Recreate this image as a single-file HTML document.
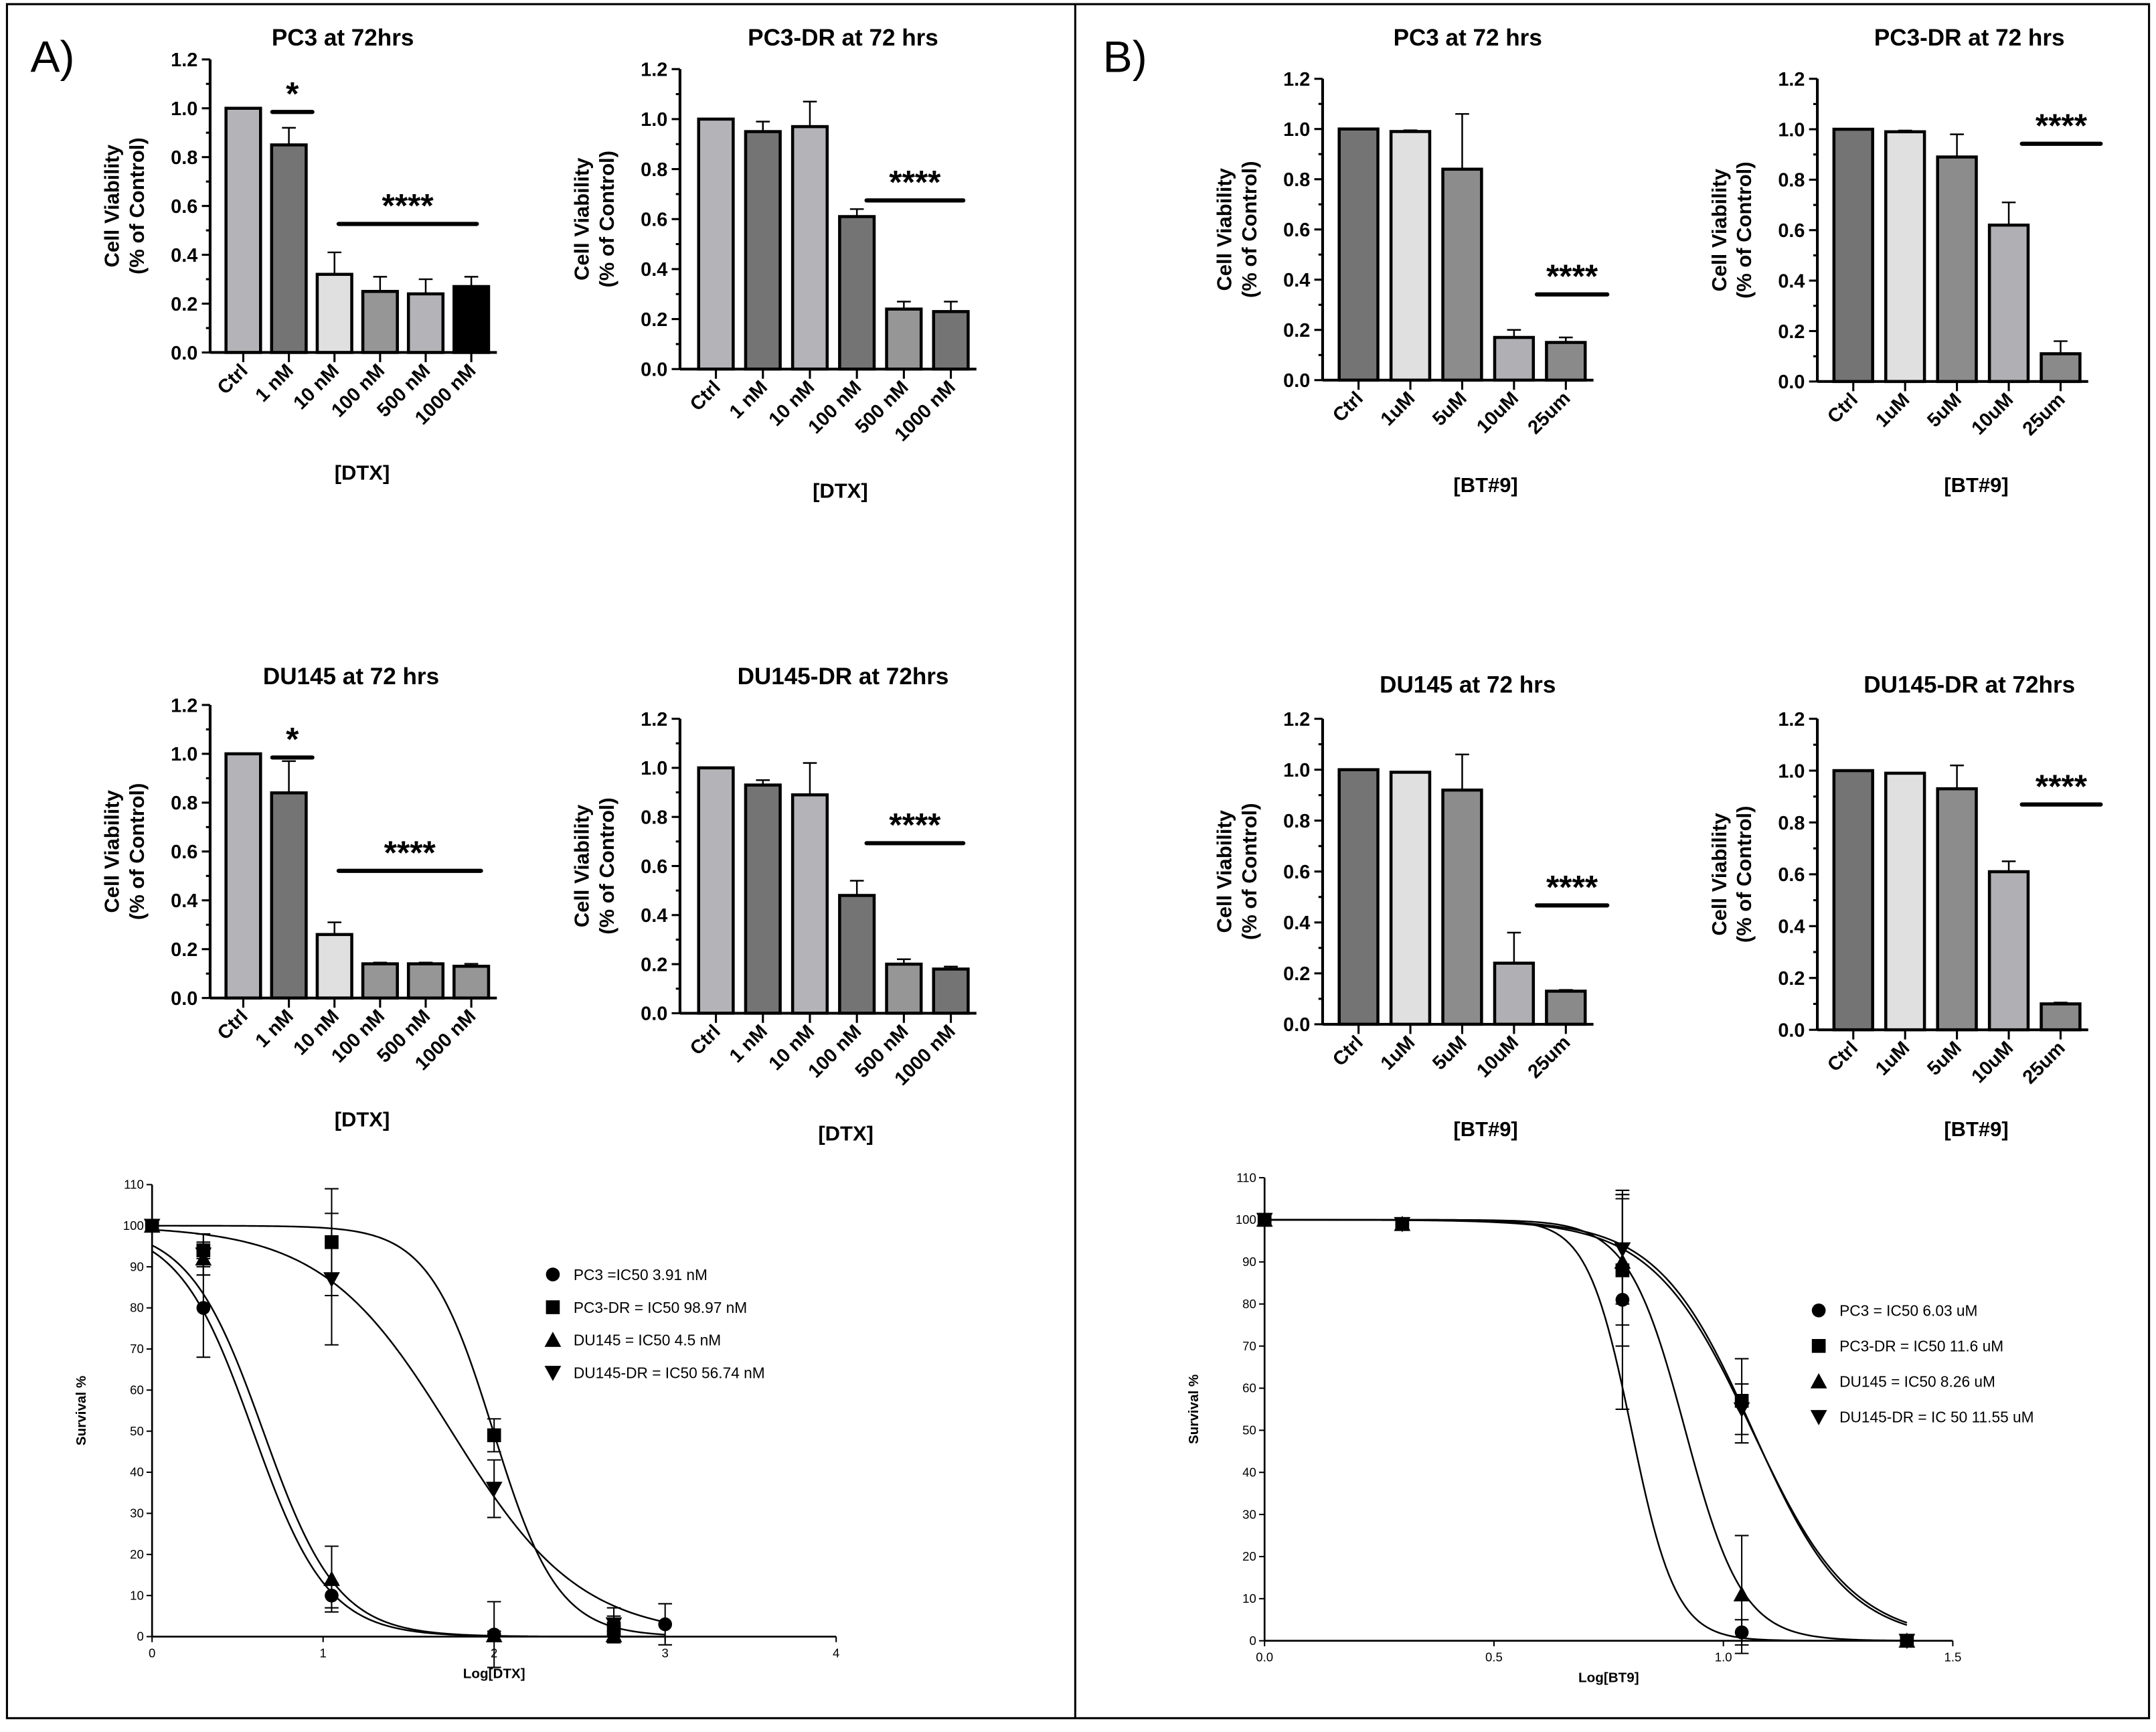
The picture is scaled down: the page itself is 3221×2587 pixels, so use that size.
<!DOCTYPE html>
<html><head><meta charset="utf-8">
<style>
html,body{margin:0;padding:0;background:#fff;}
svg{display:block;font-family:"Liberation Sans",Arial,sans-serif;}
</style></head>
<body>
<svg id="fig" width="3221" height="2587" viewBox="0 0 1560 1253" xmlns="http://www.w3.org/2000/svg">
<rect x="5" y="3" width="1550" height="1240" fill="none" stroke="#000" stroke-width="1.5"/>
<line x1="778" y1="3" x2="778" y2="1243" stroke="#000" stroke-width="1.5"/>
<text x="22" y="52" font-size="32" font-family="Liberation Sans, sans-serif">A)</text>
<text x="798" y="52" font-size="32">B)</text>
<g id="root"></g>
</svg>
<script>
// ---- Bar chart data ----
const dtxCats = ["Ctrl","1 nM","10 nM","100 nM","500 nM","1000 nM"];
const bt9Cats = ["Ctrl","1uM","5uM","10uM","25um"];
const pc3Vals = [1.0,0.85,0.32,0.25,0.24,0.27];
const pc3Errs = [0,0.07,0.09,0.06,0.06,0.04];
const pc3drVals = [1.0,0.95,0.97,0.61,0.24,0.23];
const pc3drErrs = [0,0.04,0.10,0.03,0.03,0.04];
const du145Vals = [1.0,0.84,0.26,0.14,0.14,0.13];
const du145Errs = [0,0.13,0.05,0.005,0.005,0.01];
const du145drVals = [1.0,0.93,0.89,0.48,0.20,0.18];
const du145drErrs = [0,0.02,0.13,0.06,0.02,0.01];
const bPc3Vals = [1.0,0.99,0.84,0.17,0.15];
const bPc3Errs = [0,0.005,0.22,0.03,0.02];
const bPc3drVals = [1.0,0.99,0.89,0.62,0.11];
const bPc3drErrs = [0,0.005,0.09,0.09,0.05];
const bDu145Vals = [1.0,0.99,0.92,0.24,0.13];
const bDu145Errs = [0,0,0.14,0.12,0.005];
const bDu145drVals = [1.0,0.99,0.93,0.61,0.10];
const bDu145drErrs = [0,0,0.09,0.04,0.005];
const yTicks = [0,0.2,0.4,0.6,0.8,1.0,1.2];

// ---- Dose response data ----
const dtxX = [0,0.3,1.05,2,2.7,3];
const dtxPc3 = [100,80,10,0.5,0.5,3];
const dtxPc3Err = [0,12,3,8,2,5];
const dtxPc3dr = [100,94,96,49,2,null];
const dtxPc3drErr = [0,4,13,4,3,0];
const dtxDu = [100,92,14,0.3,0.3,null];
const dtxDuErr = [0,4,8,1,1,0];
const dtxDudr = [100,93,87,36,3,null];
const dtxDudrErr = [0,5,16,7,4,0];
const dtxLogIC50 = [0.59,1.995,0.65,1.75];
const dtxHill = [2.0,2.3,2.0,1.15];
const bt9X = [0,0.3,0.78,1.04,1.4];
const bt9Pc3 = [100,99,81,2,0];
const bt9Pc3Err = [0,0,26,3,0];
const bt9Pc3dr = [100,99,88,57,0];
const bt9Pc3drErr = [0,0,18,10,0];
const bt9Du = [100,99,90,11,0];
const bt9DuErr = [0,0,15,14,0];
const bt9Dudr = [100,99,93,55,0];
const bt9DudrErr = [0,0,13,6,0];
const bt9LogIC50 = [0.80,1.064,0.917,1.0626];
const bt9Hill = [9,4.2,7,4.0];

const NS="http://www.w3.org/2000/svg";
const root=document.getElementById('root');
function el(tag,attrs,parent,txt){const e=document.createElementNS(NS,tag);for(const k in attrs)e.setAttribute(k,attrs[k]);if(txt!==undefined)e.textContent=txt;(parent||root).appendChild(e);return e;}

const dtxColors=["#b4b4b8","#747474","#e0e0e0","#969696","#b4b4b8","#000000"];
const bt9Colors=["#747474","#e0e0e0","#8c8c8c","#b0b0b4","#8a8a8a"];

function barPanel(o){
  const g=el('g',{});
  
  
  const n=o.cats.length;
  const yS=v=>o.y0-(o.y0-o.y12)*v/1.2;
  const xEnd=o.ax+o.first+o.step*(n-1)+o.bw/2+6;
  // title
  const t=el('text',{x:o.tx,y:o.ty,'font-size':17,'font-weight':'bold','text-anchor':'middle'},g,o.title);
  
  
  // y axis
  el('line',{x1:o.ax,y1:o.y12,x2:o.ax,y2:o.y0,stroke:'#000','stroke-width':2},g);
  for(let i=0;i<=12;i++){const y=yS(i*0.1);el('line',{x1:o.ax-(i%2?3:6),y1:y,x2:o.ax,y2:y,stroke:'#000','stroke-width':1.5},g);}
  yTicks.forEach(v=>{const tl=el('text',{x:o.ax-9,y:yS(v)+5,'font-size':14,'font-weight':'bold','text-anchor':'end'},g,v.toFixed(1));
    });
  const yt=el('text',{transform:`translate(${o.ax-66},${(o.y0+o.y12)/2}) rotate(-90)`,'font-size':15,'font-weight':'bold','text-anchor':'middle'},g);
  
  el('tspan',{x:0,dy:0},yt,'Cell Viability');el('tspan',{x:0,dy:18},yt,'(% of Control)');
  // bars
  o.vals.forEach((v,i)=>{
    const cx=o.ax+o.first+o.step*i;
    const yt=yS(v);
    const r=el('rect',{x:cx-o.bw/2,y:yt,width:o.bw,height:o.y0-yt,fill:o.colors[i],stroke:'#000','stroke-width':2.2},g);
    
    
    if(o.errs[i]>0.004){const ye=yS(v+o.errs[i]);
      el('line',{x1:cx,y1:yt,x2:cx,y2:ye,stroke:'#000','stroke-width':1.2},g);
      el('line',{x1:cx-5,y1:ye,x2:cx+5,y2:ye,stroke:'#000','stroke-width':1.2},g);}
    el('line',{x1:cx,y1:o.y0,x2:cx,y2:o.y0+7,stroke:'#000','stroke-width':1.5},g);
    const lb=el('text',{transform:`translate(${cx+4},${o.y0+14}) rotate(-45)`,'font-size':14,'font-weight':'bold','text-anchor':'end'},g,o.cats[i]);
    
  });
  el('line',{x1:o.ax,y1:o.y0,x2:xEnd,y2:o.y0,stroke:'#000','stroke-width':2},g);
  const xt=el('text',{x:o.xlx,y:o.xly,'font-size':15,'font-weight':'bold','text-anchor':'middle'},g,o.xlabel);
  
  o.sig.forEach(s=>{
    el('line',{x1:s[0],y1:s[2],x2:s[1],y2:s[2],stroke:'#000','stroke-width':3,'stroke-linecap':'round'},g);
    const st=el('text',{x:(s[0]+s[1])/2,y:s[2]-5,'font-size':s[3].length>1?24:24,'font-weight':'bold','text-anchor':'middle'},g,s[3]);
    
  });
}
const A={first:24,step:33,bw:25};
const B={first:26,step:37.5,bw:28};
barPanel({name:'chart-pc3-dtx',title:'PC3 at 72hrs',tx:248,ty:33,ax:152,y0:255,y12:43,...A,cats:dtxCats,vals:pc3Vals,errs:pc3Errs,colors:dtxColors,xlabel:'[DTX]',xlx:262,xly:347,sig:[[197,226,81,'*'],[245,345,162,'****']]});
barPanel({name:'chart-pc3dr-dtx',title:'PC3-DR at 72 hrs',tx:610,ty:33,ax:492,y0:267,y12:50,...A,first:26,step:34,cats:dtxCats,vals:pc3drVals,errs:pc3drErrs,colors:["#b4b4b8","#747474","#b4b4b8","#747474","#969696","#747474"],xlabel:'[DTX]',xlx:608,xly:360,sig:[[627,697,145,'****']]});
barPanel({name:'chart-du145-dtx',title:'DU145 at 72 hrs',tx:254,ty:495,ax:152,y0:722,y12:510,...A,cats:dtxCats,vals:du145Vals,errs:du145Errs,colors:["#b4b4b8","#747474","#e0e0e0","#969696","#969696","#969696"],xlabel:'[DTX]',xlx:262,xly:815,sig:[[197,226,548,'*'],[245,348,630,'****']]});
barPanel({name:'chart-du145dr-dtx',title:'DU145-DR at 72hrs',tx:610,ty:495,ax:492,y0:733,y12:520,...A,first:26,step:34,cats:dtxCats,vals:du145drVals,errs:du145drErrs,colors:["#b4b4b8","#747474","#b4b4b8","#747474","#969696","#747474"],xlabel:'[DTX]',xlx:612,xly:825,sig:[[627,697,610,'****']]});
barPanel({name:'chart-pc3-bt9',title:'PC3 at 72 hrs',tx:1062,ty:33,ax:957,y0:275,y12:57,...B,cats:bt9Cats,vals:bPc3Vals,errs:bPc3Errs,colors:bt9Colors,xlabel:'[BT#9]',xlx:1075,xly:356,sig:[[1112,1163,213,'****']]});
barPanel({name:'chart-pc3dr-bt9',title:'PC3-DR at 72 hrs',tx:1425,ty:33,ax:1315,y0:276,y12:57,...B,cats:bt9Cats,vals:bPc3drVals,errs:bPc3drErrs,colors:bt9Colors,xlabel:'[BT#9]',xlx:1430,xly:356,sig:[[1463,1520,104,'****']]});
barPanel({name:'chart-du145-bt9',title:'DU145 at 72 hrs',tx:1062,ty:501,ax:957,y0:741,y12:520,...B,cats:bt9Cats,vals:bDu145Vals,errs:bDu145Errs,colors:bt9Colors,xlabel:'[BT#9]',xlx:1075,xly:822,sig:[[1112,1163,655,'****']]});
barPanel({name:'chart-du145dr-bt9',title:'DU145-DR at 72hrs',tx:1425,ty:501,ax:1315,y0:745,y12:520,...B,cats:bt9Cats,vals:bDu145drVals,errs:bDu145drErrs,colors:bt9Colors,xlabel:'[BT#9]',xlx:1430,xly:822,sig:[[1463,1520,582,'****']]});

// ---- Dose response panels ----
function marker(g,type,x,y,s){
  let m;
  if(type==='circle')m=el('circle',{cx:x,cy:y,r:s},g);
  else if(type==='square')m=el('rect',{x:x-s,y:y-s,width:2*s,height:2*s},g);
  else if(type==='up')m=el('polygon',{points:`${x},${y-s*1.2} ${x-s*1.2},${y+s} ${x+s*1.2},${y+s}`},g);
  else m=el('polygon',{points:`${x},${y+s*1.2} ${x-s*1.2},${y-s} ${x+s*1.2},${y-s}`},g);
  m.setAttribute('fill','#000');return m;
}
function curvePanel(o){
  const g=el('g',{});
  
  
  const xS=v=>o.x0+(o.x1-o.x0)*(v-o.xmin)/(o.xmax-o.xmin);
  const yS=v=>o.y0-(o.y0-o.y110)*v/110;
  el('line',{x1:o.x0,y1:o.y110,x2:o.x0,y2:o.y0,stroke:'#000','stroke-width':1.3},g);
  el('line',{x1:o.x0,y1:o.y0,x2:o.x1,y2:o.y0,stroke:'#000','stroke-width':1.3},g);
  for(let v=0;v<=110;v+=10){const y=yS(v);el('line',{x1:o.x0-4,y1:y,x2:o.x0,y2:y,stroke:'#000'},g);
    const tl=el('text',{x:o.x0-6,y:y+3,'font-size':9,'text-anchor':'end'},g,String(v));
    }
  o.xticks.forEach(v=>{const x=xS(v);el('line',{x1:x,y1:o.y0,x2:x,y2:o.y0+4,stroke:'#000'},g);
    const tl=el('text',{x:x,y:o.y0+15,'font-size':9,'text-anchor':'middle'},g,o.xtl(v));
    });
  const xt=el('text',{x:(o.x0+o.x1)/2,y:o.y0+30,'font-size':10,'font-weight':'bold','text-anchor':'middle'},g,o.xlabel);
  
  const yt=el('text',{transform:`translate(${o.x0-48},${(o.y0+o.y110)/2}) rotate(-90)`,'font-size':10,'font-weight':'bold','text-anchor':'middle'},g,'Survival %');
  
  const types=['circle','square','up','down'];
  o.series.forEach((s,k)=>{
    let d='';
    for(let i=0;i<=200;i++){const xv=o.xmin+(o.cEnd-o.xmin)*i/200;const yv=100/(1+Math.pow(10,(xv-o.ic[k])*o.h[k]));d+=(i?'L':'M')+xS(xv).toFixed(2)+','+yS(yv).toFixed(2);}
    const p=el('path',{d:d,fill:'none',stroke:'#000','stroke-width':1.2},g);
    
    
    s.v.forEach((v,i)=>{if(v===null)return;const x=xS(o.xs[i]),y=yS(v);
      if(s.e[i]>0){el('line',{x1:x,y1:yS(v-s.e[i]),x2:x,y2:yS(v+s.e[i]),stroke:'#000','stroke-width':1},g);
        el('line',{x1:x-5,y1:yS(v+s.e[i]),x2:x+5,y2:yS(v+s.e[i]),stroke:'#000','stroke-width':1},g);
        el('line',{x1:x-5,y1:yS(v-s.e[i]),x2:x+5,y2:yS(v-s.e[i]),stroke:'#000','stroke-width':1},g);}
      const m=marker(g,types[k],x,y,5);
      
      });
    const ly=o.ly+k*o.lstep;
    const lm=marker(g,types[k],o.lx,ly,5);
    
    
    const lt=el('text',{x:o.lx+15,y:ly+4,'font-size':11},g,o.labels[k]);
    
  });
}
curvePanel({name:'chart-dtx-dose-response',x0:110,x1:605,xmin:0,xmax:4,y0:1184,y110:857,cEnd:3,xticks:[0,1,2,3,4],xtl:v=>String(v),xlabel:'Log[DTX]',
  xs:dtxX,series:[{v:dtxPc3,e:dtxPc3Err},{v:dtxPc3dr,e:dtxPc3drErr},{v:dtxDu,e:dtxDuErr},{v:dtxDudr,e:dtxDudrErr}],
  ic:dtxLogIC50,h:dtxHill,labels:['PC3 =IC50 3.91 nM','PC3-DR = IC50 98.97 nM','DU145 = IC50 4.5 nM','DU145-DR = IC50 56.74 nM'],lx:400,ly:922,lstep:23.7});
curvePanel({name:'chart-bt9-dose-response',x0:915,x1:1413,xmin:0,xmax:1.5,y0:1187,y110:852,cEnd:1.4,xticks:[0,0.5,1,1.5],xtl:v=>v.toFixed(1),xlabel:'Log[BT9]',
  xs:bt9X,series:[{v:bt9Pc3,e:bt9Pc3Err},{v:bt9Pc3dr,e:bt9Pc3drErr},{v:bt9Du,e:bt9DuErr},{v:bt9Dudr,e:bt9DudrErr}],
  ic:bt9LogIC50,h:bt9Hill,labels:['PC3 = IC50 6.03 uM','PC3-DR = IC50 11.6 uM','DU145 = IC50 8.26 uM','DU145-DR = IC 50 11.55 uM'],lx:1316,ly:948,lstep:25.7});
</script>
</body></html>
